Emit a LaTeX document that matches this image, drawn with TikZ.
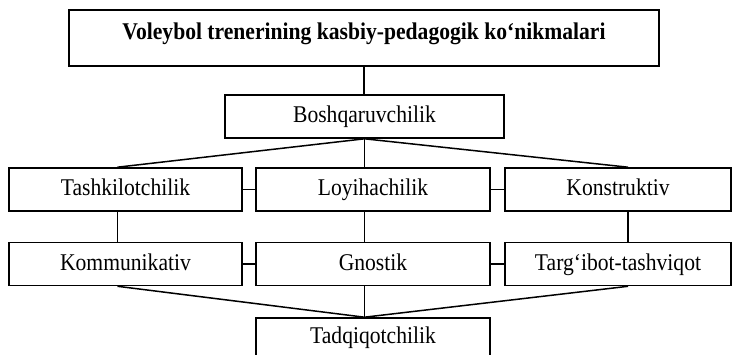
\documentclass[tikz,border=0pt]{standalone}
\usepackage{fontspec}
\setmainfont[FakeStretch=0.9]{Liberation Serif}
\begin{document}
\begin{tikzpicture}[x=1pt,y=1pt,
  box/.style={draw, line width=1.6pt, inner sep=0pt, minimum height=43pt, text height=17pt, text depth=5pt, font=\fontsize{24}{28}\selectfont},
  link/.style={line width=1.5pt}]
\useasboundingbox (0,0) rectangle (733,354);
\node[box, minimum width=590pt, minimum height=56pt, text depth=14pt, font=\bfseries\fontsize{24}{28}\selectfont] (top) at (364,316) {Voleybol trenerining kasbiy-pedagogik ko‘nikmalari};
\node[box, minimum width=279pt] (bosh) at (364.5,237.5) {Boshqaruvchilik};
\node[box, minimum width=233pt] (tash) at (125.5,164.5) {Tashkilotchilik};
\node[box, minimum width=234pt] (loy) at (373,164.5) {Loyihachilik};
\node[box, minimum width=226pt] (kons) at (618,164.5) {Konstruktiv};
\node[box, minimum width=233pt] (komm) at (125.5,90) {Kommunikativ};
\node[box, minimum width=234pt] (gno) at (373,90) {Gnostik};
\node[box, minimum width=226pt] (targ) at (618,90) {Targ‘ibot-tashviqot};
\node[box, minimum width=234pt, minimum height=44pt, text depth=11pt] (tad) at (373,14) {Tadqiqotchilik};
\coordinate (hub1) at (bosh.south);
\coordinate (hub2) at (bosh.south |- tad.north);
\draw[link] (top.south) -- (top.south |- bosh.north);
\draw[link] (hub1) -- (hub1 |- loy.north);
\draw[link] (hub1) -- ([xshift=-8pt]tash.north);
\draw[link] (hub1) -- ([xshift=10pt]kons.north);
\draw[link] (tash.east) -- (loy.west);
\draw[link] (loy.east) -- (kons.west);
\draw[link] ([xshift=-8pt]tash.south) -- ([xshift=-8pt]komm.north);
\draw[link] (hub1 |- loy.south) -- (hub1 |- gno.north);
\draw[link] ([xshift=10pt]kons.south) -- ([xshift=10pt]targ.north);
\draw[link] (komm.east) -- (gno.west);
\draw[link] (gno.east) -- (targ.west);
\draw[link] (hub1 |- gno.south) -- (hub2);
\draw[link] ([xshift=-8pt]komm.south) -- (hub2);
\draw[link] ([xshift=10pt]targ.south) -- (hub2);
\end{tikzpicture}
\end{document}
